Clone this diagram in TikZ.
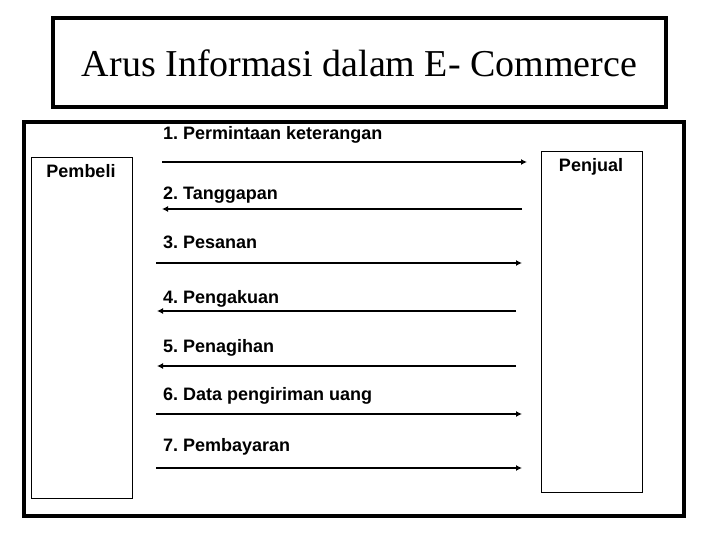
\documentclass[tikz,border=0pt]{standalone}
\usepackage{fontspec}
\setmainfont{Liberation Serif}
\newfontfamily\arialfont{Liberation Sans}[BoldFont={Liberation Sans Bold}]
\usetikzlibrary{arrows.meta}
\frenchspacing

\begin{document}
\begin{tikzpicture}[x=1pt,y=-1pt]
        \useasboundingbox (0,0) rectangle (720,540);
        % judul
        \node [draw, line width=4pt, minimum width=613pt, minimum height=89pt, inner sep=0pt] (judul) at (359.5,62.5) {};
        \node [anchor=base, inner sep=0pt, font=\fontsize{38}{40}\selectfont] (teks) at (359.5,77) {Arus Informasi dalam E- Commerce};
        \node [draw, line width=3.5pt, minimum width=660pt, minimum height=394pt, inner sep=0pt] (bingkai) at (354,319) {};
        \begin{scope}[every node/.style={draw, line width=0.8pt, minimum width=101pt, minimum height=341pt, inner sep=0pt}]
                \node (pembeli) at (81.5,327.5) {};
                \node (penjual) at (591.5,321.5) {};
        \end{scope}
        \begin{scope}[every node/.style={inner sep=0pt, font=\arialfont\bfseries\fontsize{18}{20}\selectfont}]
                \node [anchor=base] (tpembeli) at (81,178) {Pembeli};
                \node [anchor=base] (tpenjual) at (591,172) {Penjual};
                \node [anchor=base west] (l1) at (163,140) {1. Permintaan keterangan};
                \node [anchor=base west] (l2) at (163,200) {2. Tanggapan};
                \node [anchor=base west] (l3) at (163,248) {3. Pesanan};
                \node [anchor=base west] (l4) at (163,303) {4. Pengakuan};
                \node [anchor=base west] (l5) at (163,352) {5. Penagihan};
                \node [anchor=base west] (l6) at (163,400) {6. Data pengiriman uang};
                \node [anchor=base west] (l7) at (163,451) {7. Pembayaran};
        \end{scope}
        % ujung panah
        \coordinate (a1) at (162,162);  \coordinate (b1) at (527,162);
        \coordinate (a2) at (162,209);  \coordinate (b2) at (522,209);
        \coordinate (a3) at (156,263);  \coordinate (b3) at (522,263);
        \coordinate (a4) at (157,311);  \coordinate (b4) at (516,311);
        \coordinate (a5) at (157,366);  \coordinate (b5) at (516,366);
        \coordinate (a6) at (156,414);  \coordinate (b6) at (522,414);
        \coordinate (a7) at (156,468);  \coordinate (b7) at (522,468);
        \begin{scope}[every path/.style={line width=2pt, -{Latex[length=6pt,width=6pt]}}]
                \path (a1) edge (b1);
                \path (b2) edge (a2);
                \path (a3) edge (b3);
                \path (b4) edge (a4);
                \path (b5) edge (a5);
                \path (a6) edge (b6);
                \path (a7) edge (b7);
        \end{scope}
\end{tikzpicture}
\end{document}
